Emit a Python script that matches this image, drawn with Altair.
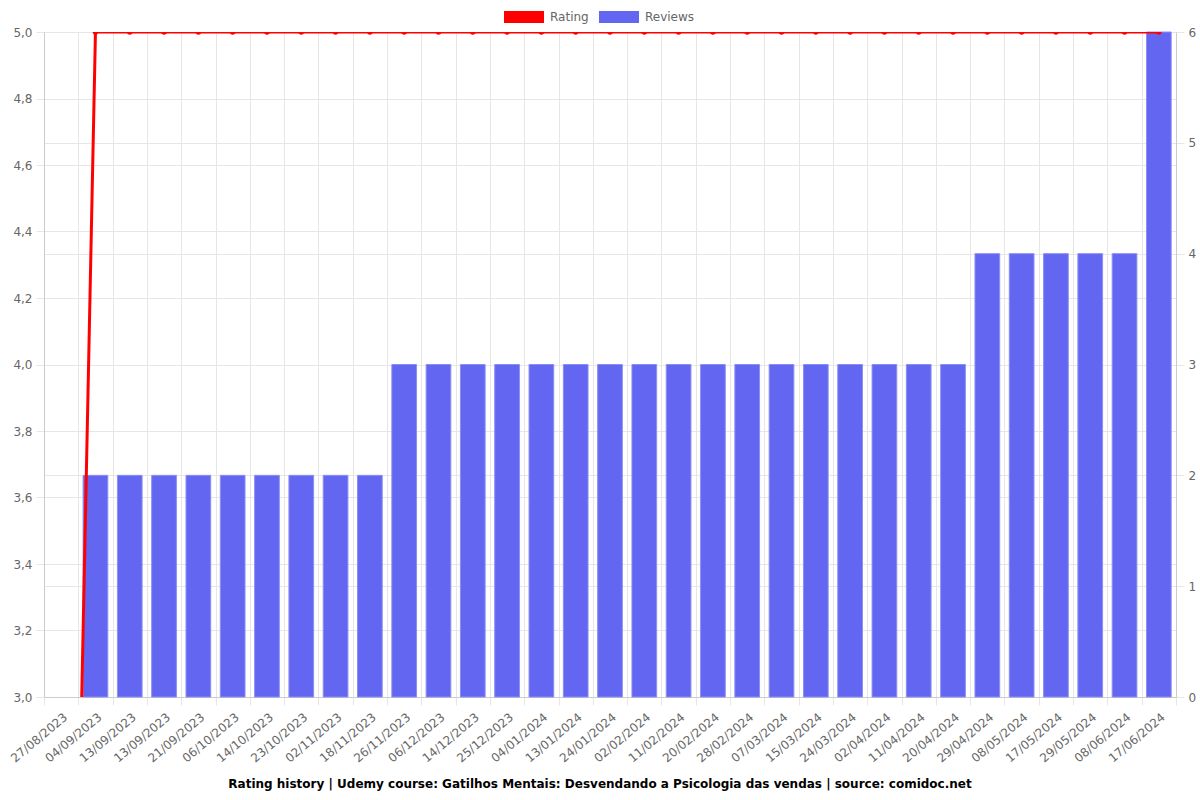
import altair as alt
import pandas as pd

labels = ["27/08/2023", "04/09/2023", "13/09/2023", "13/09/2023", "21/09/2023", "06/10/2023",
          "14/10/2023", "23/10/2023", "02/11/2023", "18/11/2023", "26/11/2023", "06/12/2023",
          "14/12/2023", "25/12/2023", "04/01/2024", "13/01/2024", "24/01/2024", "02/02/2024",
          "11/02/2024", "20/02/2024", "28/02/2024", "07/03/2024", "15/03/2024", "24/03/2024",
          "02/04/2024", "11/04/2024", "20/04/2024", "29/04/2024", "08/05/2024", "17/05/2024",
          "29/05/2024", "08/06/2024", "17/06/2024"]
rating = [0] + [5] * 32
reviews = [0] + [2] * 9 + [3] * 17 + [4] * 5 + [6]

df = pd.DataFrame({
    "idx": list(range(len(labels))),
    "label": labels,
    "rating": rating,
    "reviews": reviews,
})

FONT = "DejaVu Sans"
GRID = "#e6e6e6"
label_js = "[" + ",".join("'" + l + "'" for l in labels) + "]"

color_scale = alt.Scale(domain=["Rating", "Reviews"], range=["#ff0000", "#6366f1"])
legend = alt.Legend(
    title=None, orient="none", legendX=460, legendY=-35, direction="horizontal",
    symbolType="M-1,-0.3L1,-0.3L1,0.3L-1,0.3Z", symbolSize=1600, symbolStrokeWidth=0,
    labelFont=FONT, labelFontSize=12, labelColor="#666666", columnPadding=10,
    labelOffset=6,
)

x_enc = alt.X(
    "idx:O",
    scale=alt.Scale(paddingInner=0, paddingOuter=0),
    axis=alt.Axis(
        title=None, labelExpr=label_js + "[datum.value]", labelAngle=-40,
        tickBand="extent", grid=True, gridColor=GRID, tickColor=GRID, tickSize=8,
        domainColor="#cccccc", labelFont=FONT, labelFontSize=12, labelColor="#666666",
        labelPadding=10, labelOffset=4, labelAlign="right", labelBaseline="middle",
    ),
)

bars = alt.Chart(df).transform_filter("datum.reviews > 0").transform_calculate(
    series="'Reviews'"
).mark_bar(
    width=alt.RelativeBandSize(0.72), stroke="#8b8ef5", strokeWidth=1,
).encode(
    x=x_enc,
    y=alt.Y("reviews:Q", scale=alt.Scale(domain=[0, 6], nice=False),
            axis=alt.Axis(orient="right", title=None, values=[0, 1, 2, 3, 4, 5, 6],
                          grid=True, gridColor=GRID, tickColor=GRID, tickSize=8,
                          domainColor="#cccccc", labelFont=FONT, labelFontSize=12,
                          labelColor="#666666", labelPadding=4)),
    color=alt.Color("series:N", scale=color_scale, legend=legend),
)

line = alt.Chart(df).transform_calculate(series="'Rating'").mark_line(
    strokeWidth=3, clip=True,
    point=alt.OverlayMarkDef(filled=True, size=30, clip=True, color="#ff0000"),
).encode(
    x=alt.X("idx:O"),
    y=alt.Y("rating:Q", scale=alt.Scale(domain=[3, 5], nice=False),
            axis=alt.Axis(orient="left", title=None,
                          values=[3.0, 3.2, 3.4, 3.6, 3.8, 4.0, 4.2, 4.4, 4.6, 4.8, 5.0],
                          labelExpr="replace(format(datum.value, '.1f'), '.', ',')",
                          grid=True, gridColor=GRID, tickColor=GRID, tickSize=8,
                          domainColor="#cccccc", labelFont=FONT, labelFontSize=12,
                          labelColor="#666666", labelPadding=4)),
    color=alt.Color("series:N", scale=color_scale, legend=legend),
)

chart = alt.layer(bars, line).resolve_scale(y="independent").properties(
    width=1132, height=665,
    autosize=alt.AutoSizeParams(type="none"),
    padding={"left": 44, "top": 32, "right": 24, "bottom": 103},
    title=alt.Title(
        "Rating history | Udemy course: Gatilhos Mentais: Desvendando a Psicologia das vendas | source: comidoc.net",
        orient="bottom", anchor="middle", font=FONT, fontSize=12, fontWeight="bold",
        color="#000000", offset=15, dx=-10,
    ),
).configure_view(stroke=None)

chart.save("out.html", embed_options={"renderer": "svg", "actions": False})
